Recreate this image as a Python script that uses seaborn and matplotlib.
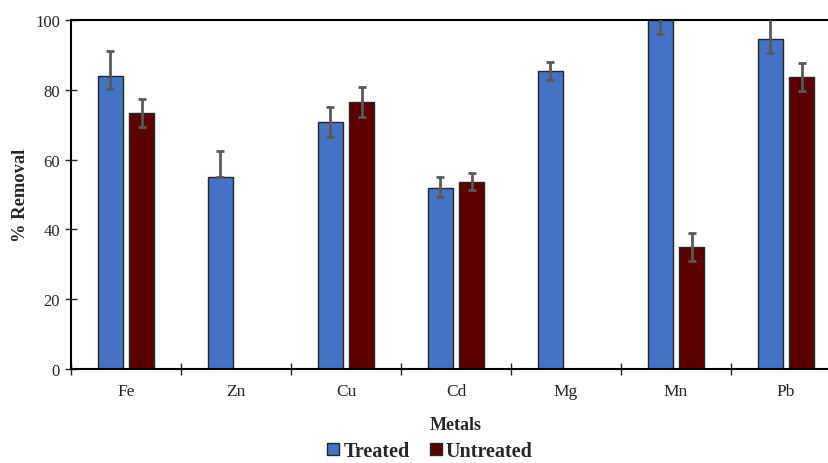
import numpy as np
import pandas as pd
import matplotlib.pyplot as plt
import seaborn as sns

# valores
metales = ['Fe', 'Zn', 'Cu', 'Cd', 'Mg', 'Mn', 'Pb']
tratado = [84.0, 55.0, 70.7, 51.9, 85.5, 100.0, 94.6]
no_tratado = [73.4, 0.0, 76.5, 53.7, 0.0, 35.0, 83.7]
err_tratado_inf = [3.8, 0.0, 4.3, 2.5, 2.6, 4.0, 4.0]
err_tratado_sup = [7.1, 7.5, 4.3, 3.0, 2.6, 4.0, 6.0]
err_no_tratado = [4.0, np.nan, 4.3, 2.5, np.nan, 4.0, 4.0]

colores = {'Treated': '#4472C4', 'Untreated': '#5C0000'}

data = pd.DataFrame({
    'Metal': metales * 2,
    'Grupo': ['Treated'] * len(metales) + ['Untreated'] * len(metales),
    'Removal': tratado + no_tratado,
})

sns.set_style('white')
plt.rcParams['font.family'] = ['Liberation Serif', 'DejaVu Serif']

fig = plt.figure(figsize=(8.29, 4.64), dpi=100)
ax = fig.add_axes([71 / 829, 1 - 370 / 464, 770 / 829, 349 / 464])

sns.barplot(data=data, x='Metal', y='Removal', hue='Grupo', palette=colores,
            width=0.564, gap=0.2, edgecolor='#262626', linewidth=1,
            saturation=1, errorbar=None, legend=False, ax=ax)

# barras de error (asimetricas en algunos casos)
n = len(metales)
x = np.arange(n)
desp = 0.564 / 4
ax.errorbar(x - desp, tratado, yerr=[err_tratado_inf, err_tratado_sup],
            fmt='none', ecolor='#595959', elinewidth=2, capsize=3, capthick=2,
            zorder=5)
ax.errorbar(x + desp, no_tratado, yerr=[err_no_tratado, err_no_tratado],
            fmt='none', ecolor='#595959', elinewidth=2, capsize=3, capthick=2,
            zorder=5)

ax.set_xlim(-0.5, n - 0.5)
ax.set_ylim(0, 100)
ax.set_yticks([0, 20, 40, 60, 80, 100])
ax.set_xticks(x)
ax.set_xticklabels(metales)
ax.set_xticks(np.arange(-0.5, n, 1), minor=True)
ax.tick_params(axis='x', which='major', length=0, pad=10, labelsize=12.5)
ax.tick_params(axis='x', which='minor', direction='inout', length=8, width=1,
               bottom=True)
ax.tick_params(axis='y', direction='inout', length=8, width=1, left=True,
               labelsize=12, pad=4)

for lado in ['left', 'bottom', 'top']:
    ax.spines[lado].set_visible(True)
    ax.spines[lado].set_color('black')
    ax.spines[lado].set_linewidth(1.5)
ax.spines['right'].set_visible(False)

ax.set_ylabel('% Removal', fontsize=13.3, fontweight='bold', labelpad=4)
ax.set_xlabel('Metals', fontsize=13, fontweight='bold', labelpad=12)

handles = [plt.Rectangle((0, 0), 1, 1, facecolor=colores[k], edgecolor='#262626',
                         linewidth=1) for k in colores]
fig.legend(handles, list(colores.keys()), loc='lower center',
           bbox_to_anchor=(430 / 829, -0.035), ncol=2, frameon=False,
           prop={'weight': 'bold', 'size': 14.5}, handlelength=0.6,
           handleheight=0.6, handletextpad=0.2, columnspacing=1.0)

plt.savefig('out.png', dpi=100)
